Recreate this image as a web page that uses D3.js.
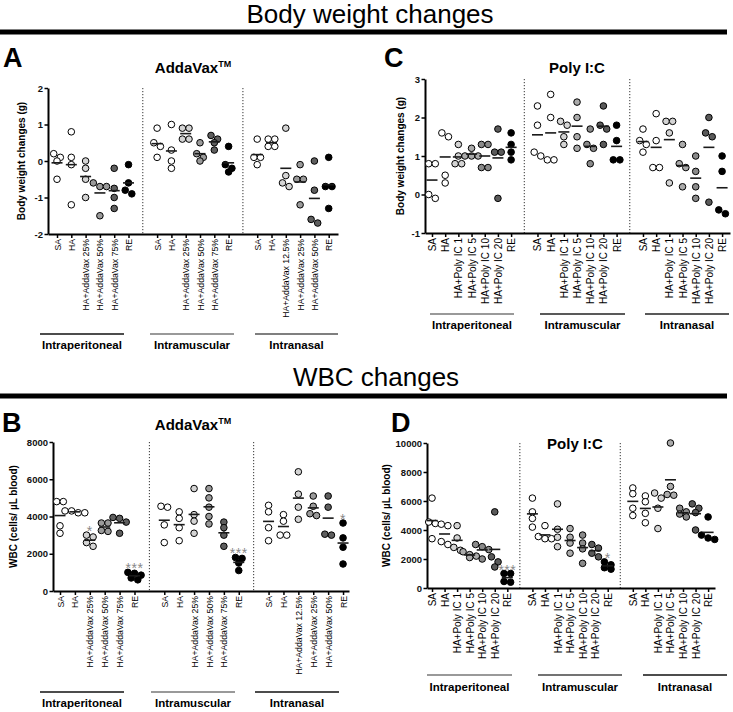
<!DOCTYPE html>
<html>
<head>
<meta charset="utf-8">
<script src="https://cdn.jsdelivr.net/npm/d3@7"></script>
<style>
body { margin: 0; background: #fff; }
svg { display: block; font-family: "Liberation Sans", Arial, sans-serif; }
</style>
</head>
<body>
<div id="chart"></div>
<script>
//Categories
const routes = ["Intraperitoneal", "Intramuscular", "Intranasal"];
const addaGroups = [
    ["SA", "HA", "HA+AddaVax 25%", "HA+AddaVax 50%", "HA+AddaVax 75%", "RE"],
    ["SA", "HA", "HA+AddaVax 25%", "HA+AddaVax 50%", "HA+AddaVax 75%", "RE"],
    ["SA", "HA", "HA+AddaVax 12.5%", "HA+AddaVax 25%", "HA+AddaVax 50%", "RE"],
];
const polyGroup = ["SA", "HA", "HA+Poly IC 1", "HA+Poly IC 5", "HA+Poly IC 10", "HA+Poly IC 20", "RE"];
const polyGroups = [polyGroup, polyGroup, polyGroup];

//Body weight changes (g), AddaVax, in category order
const weightAdda = [
    [0.1, 0.2, 0.0, -0.5], [0.1, 0.8, -0.1, -1.2], [-0.2, 0.0, -0.5, -1.0],
    [-0.6, -0.7, -0.7, -1.5], [-0.2, -0.75, -1.0, -1.3], [-0.1, -0.6, -0.8, -0.9],
    [0.9, 0.5, 0.4, 0.1], [1.0, 0.3, 0.0, -0.2], [0.9, 0.9, 0.6, 0.6],
    [0.5, 0.2, 0.1, 0.0], [0.7, 0.6, 0.5, 0.3], [0.4, -0.1, -0.2, -0.3],
    [0.6, 0.1, 0.1, -0.1], [0.6, 0.6, 0.4, 0.4], [0.9, -0.4, -0.6, -0.7],
    [-0.1, -0.5, -0.5, -1.2], [0.0, -0.8, -1.6, -1.7], [0.1, -0.7, -0.7, -1.3],
];

//Body weight changes (g), Poly I:C
const weightPoly = [
    [0.8, 0.8, 0.0, -0.1], [1.6, 1.5, 0.5, 0.3], [1.3, 1.0, 0.8, 0.8], [1.2, 1.0, 1.0, 1.0],
    [1.3, 1.3, 0.7, 0.7], [1.7, 1.1, 1.1, -0.1], [1.6, 1.3, 1.1, 0.9],
    [2.3, 1.8, 1.0, 1.1], [2.6, 2.0, 0.9, 0.9], [1.9, 1.8, 1.5, 1.3], [2.4, 2.0, 1.5, 1.2],
    [1.7, 1.3, 1.2, 0.8], [2.3, 1.8, 1.7, 1.3], [1.8, 1.4, 0.9, 0.9],
    [1.7, 1.4, 1.3, 1.1], [2.1, 1.4, 0.7, 0.7], [1.9, 1.9, 1.6, 0.3], [1.3, 0.8, 0.7, 0.2],
    [1.0, 0.6, 0.2, -0.1], [2.0, 1.6, 1.5, -0.2], [1.0, 0.6, -0.4, -0.5],
];

//WBC (cells/uL blood), AddaVax
const wbcAdda = [
    [4800, 4800, 3500, 3100], [4300, 4200, 4200, 4300], [3000, 2900, 2600, 2400],
    [3650, 3650, 3250, 3200], [3950, 3900, 3700, 3100], [1000, 950, 850, 700, 600],
    [4500, 4550, 3550, 2600], [4250, 3900, 3400, 2700], [5500, 4100, 3750, 3100],
    [5500, 5000, 4500, 4000, 3600], [3700, 3400, 3000, 2400], [1800, 1750, 1500, 1100],
    [4600, 4250, 3400, 2700], [4100, 3750, 3000, 3000], [6400, 5200, 4500, 3850],
    [5100, 4550, 4050, 4150], [5100, 4500, 3000, 3050], [3650, 2850, 2350, 1450],
];

//WBC (cells/uL blood), Poly I:C
const wbcPoly = [
    [6200, 4550, 4450, 3400], [4400, 4300, 3200, 3000], [4300, 3450, 2800, 2600], [2500, 2300, 2200, 2100],
    [3000, 2850, 2650, 2000], [5250, 2150, 1800, 1450], [1000, 1000, 450, 400],
    [6200, 5250, 4800, 4200], [4300, 3550, 3400, 3400], [5800, 4050, 3500, 2850], [4100, 3500, 3100, 2400],
    [3650, 3100, 2700, 1700], [3000, 2750, 2400, 2150], [1800, 1600, 1400, 1300],
    [6900, 6500, 5500, 5000], [6350, 5950, 5150, 4500], [6550, 6200, 5500, 4100], [10000, 7000, 6450, 6400],
    [5500, 5250, 5100, 4900], [5800, 5500, 5200, 4000], [4900, 3650, 3450, 3350],
];

//Significance marks (category index, label)
const wbcAddaStars = [[2, "*"], [5, "***"], [11, "***"], [17, "*"]];
const wbcPolyStars = [[6, "***"], [13, "*"]];

//Fill per position inside a route group
const addaFills = ["#fff", "#fff", "#d4d4d4", "#9a9a9a", "#5e5e5e", "#000"];
const polyFills = ["#fff", "#fff", "#d4d4d4", "#ababab", "#8a8a8a", "#5a5a5a", "#000"];

const width = 733;
const height = 712;
const r = 3.3;

const svg = d3
    .select("#chart")
    .append("svg")
    .attr("width", width)
    .attr("height", height);

//Section headings
const headings = [
    { text: "Body weight changes", x: 370, y: 23, lineY: 32 },
    { text: "WBC changes", x: 376, y: 386, lineY: 396 },
];
headings.forEach((h) => {
    svg.append("text")
        .attr("x", h.x)
        .attr("y", h.y)
        .attr("text-anchor", "middle")
        .attr("font-size", "26px")
        .text(h.text);
    svg.append("line")
        .attr("x1", 0)
        .attr("x2", 727)
        .attr("y1", h.lineY)
        .attr("y2", h.lineY)
        .attr("stroke", "#000")
        .attr("stroke-width", 5);
});

const panels = [
    {
        letter: "A", lx: 3, ly: 67, title: "AddaVax", tm: true, tx: 193, ty: 73,
        groups: addaGroups, values: weightAdda, fills: addaFills, stars: [], catFont: 8.7,
        x0: 48, x1: 338, y0: 234, y1: 88, padL: 0.63, padR: 0.65,
        yDomain: [-2, 2], yTicks: [-2, -1, 0, 1, 2], yTitle: "Body weight changes (g)", yTitleX: 21,
        under: [[40, 124], [150, 234], [255, 338]], underY: 334, underColors: ["#111", "#777", "#555"], routeY: 349,
    },
    {
        letter: "B", lx: 2, ly: 432, title: "AddaVax", tm: true, tx: 193, ty: 430,
        groups: addaGroups, values: wbcAdda, fills: addaFills, stars: wbcAddaStars, catFont: 8.7,
        x0: 53, x1: 349, y0: 591, y1: 442, padL: 0.47, padR: 0.4,
        yDomain: [0, 8000], yTicks: [0, 2000, 4000, 6000, 8000], yTitle: "WBC (cells/ µL blood)", yTitleX: 13,
        under: [[40, 124], [151, 235], [255, 339]], underY: 692, underColors: ["#111", "#777", "#111"], routeY: 707,
    },
    {
        letter: "C", lx: 384, ly: 67, title: "Poly I:C", tm: false, tx: 577, ty: 73,
        groups: polyGroups, values: weightPoly, fills: polyFills, stars: [], catFont: 10,
        x0: 425, x1: 730, y0: 233, y1: 79, padL: 0.53, padR: 0.6,
        yDomain: [-1, 3], yTicks: [-1, 0, 1, 2, 3], yTitle: "Body weight changes (g)", yTitleX: 400,
        under: [[430, 514], [540, 625], [645, 729]], underY: 314, underColors: ["#777", "#222", "#222"], routeY: 329,
    },
    {
        letter: "D", lx: 391, ly: 432, title: "Poly I:C", tm: false, tx: 575, ty: 449,
        groups: polyGroups, values: wbcPoly, fills: polyFills, stars: wbcPolyStars, catFont: 10,
        x0: 427, x1: 715, y0: 588, y1: 443, padL: 0.4, padR: 0.55,
        yDomain: [0, 10000], yTicks: [0, 2000, 4000, 6000, 8000, 10000], yTitle: "WBC (cells/ µL blood)", yTitleX: 386,
        under: [[427, 512], [538, 622], [643, 727]], underY: 675, underColors: ["#777", "#444", "#111"], routeY: 691,
    },
];

//Spread points sideways when they sit at nearly the same height
const dodge = (vals, y) => {
    const pts = vals.map((v) => ({ v, py: y(v) })).sort((a, b) => a.py - b.py);
    const clusters = [];
    pts.forEach((pt) => {
        const last = clusters[clusters.length - 1];
        if (last && pt.py - last[0].py < r * 1.6) last.push(pt);
        else clusters.push([pt]);
    });
    clusters.forEach((cl) =>
        cl.forEach((pt, j) => (pt.dx = (j - (cl.length - 1) / 2) * r * 2))
    );
    return pts;
};

const drawPanel = (p) => {
    const n = p.groups[0].length;
    const nSlots = p.groups.length * (n + 1) - 1;
    const x = d3.scaleLinear().domain([-p.padL, nSlots - 1 + p.padR]).range([p.x0, p.x1]);
    const y = d3.scaleLinear().domain(p.yDomain).range([p.y0, p.y1]);
    const g = svg.append("g");

    const cats = [];
    p.groups.forEach((grp, gi) =>
        grp.forEach((name, i) =>
            cats.push({ name, slot: gi * (n + 1) + i, fill: p.fills[i], values: p.values[cats.length] })
        )
    );

    //Letter and title
    g.append("text")
        .attr("x", p.lx)
        .attr("y", p.ly)
        .attr("font-size", "27px")
        .attr("font-weight", "bold")
        .text(p.letter);
    const title = g.append("text")
        .attr("x", p.tx)
        .attr("y", p.ty)
        .attr("text-anchor", "middle")
        .attr("font-size", "15px")
        .attr("font-weight", "bold")
        .text(p.title);
    if (p.tm) title.append("tspan").attr("font-size", "9px").attr("dy", -6).text("TM");

    //Dotted separators between routes
    for (let gi = 1; gi < p.groups.length; gi++) {
        const sx = x(gi * (n + 1) - 1);
        g.append("line")
            .attr("x1", sx)
            .attr("x2", sx)
            .attr("y1", p.y1)
            .attr("y2", p.y0)
            .attr("stroke", "#333")
            .attr("stroke-width", 1)
            .attr("stroke-dasharray", "1.2,1.8");
    }

    //Axes
    const yAxis = g.append("g")
        .attr("transform", `translate(${p.x0},0)`)
        .call(
            d3.axisLeft(y)
                .tickValues(p.yTicks)
                .tickFormat((d) => String(d))
                .tickSize(3.5)
                .tickPadding(1.5)
                .tickSizeOuter(0)
        );
    yAxis.selectAll("text").attr("font-size", "9.5px").attr("font-weight", "bold").attr("fill", "#111");

    const xAxis = g.append("g")
        .attr("transform", `translate(0,${p.y0})`)
        .call(
            d3.axisBottom(x)
                .tickValues(cats.map((c) => c.slot))
                .tickFormat((d, i) => cats[i].name)
                .tickSize(4)
                .tickSizeOuter(0)
        );
    xAxis.selectAll("text")
        .attr("transform", "rotate(-90)")
        .attr("text-anchor", "end")
        .attr("x", -5)
        .attr("y", 0)
        .attr("dy", "0.35em")
        .attr("font-size", `${p.catFont}px`)
        .attr("fill", "#000");

    [yAxis, xAxis].forEach((ax) => {
        ax.select(".domain").attr("stroke-width", 2);
        ax.selectAll(".tick line").attr("stroke-width", 1.5);
    });

    //Y title
    g.append("text")
        .attr("transform", `translate(${p.yTitleX},${(p.y0 + p.y1) / 2}) rotate(-90)`)
        .attr("text-anchor", "middle")
        .attr("dy", "0.35em")
        .attr("font-size", "10px")
        .attr("font-weight", "bold")
        .text(p.yTitle);

    //Points and means
    cats.forEach((c) => {
        const cx = x(c.slot);
        g.append("g")
            .selectAll("circle")
            .data(dodge(c.values, y))
            .enter()
            .append("circle")
            .attr("cx", (d) => cx + d.dx)
            .attr("cy", (d) => d.py)
            .attr("r", r)
            .attr("fill", c.fill)
            .attr("stroke", "#000")
            .attr("stroke-width", 1);
        const m = d3.mean(c.values);
        g.append("line")
            .attr("x1", cx - 5.5)
            .attr("x2", cx + 5.5)
            .attr("y1", y(m))
            .attr("y2", y(m))
            .attr("stroke", "#1a1a1a")
            .attr("stroke-width", 1.6);
    });

    //Stars
    p.stars.forEach(([ci, label]) => {
        const c = cats[ci];
        g.append("text")
            .attr("x", x(c.slot))
            .attr("y", y(d3.max(c.values)) + 1)
            .attr("text-anchor", "middle")
            .attr("font-size", "14px")
            .attr("letter-spacing", "0.5px")
            .attr("fill", "#888")
            .text(label);
    });

    //Route underlines and labels
    p.under.forEach(([a, b], i) => {
        g.append("line")
            .attr("x1", a)
            .attr("x2", b)
            .attr("y1", p.underY)
            .attr("y2", p.underY)
            .attr("stroke", p.underColors[i])
            .attr("stroke-width", 1.5);
        g.append("text")
            .attr("x", (a + b) / 2)
            .attr("y", p.routeY)
            .attr("text-anchor", "middle")
            .attr("font-size", "11.5px")
            .attr("font-weight", "bold")
            .text(routes[i]);
    });
};

panels.forEach(drawPanel);
</script>
</body>
</html>
